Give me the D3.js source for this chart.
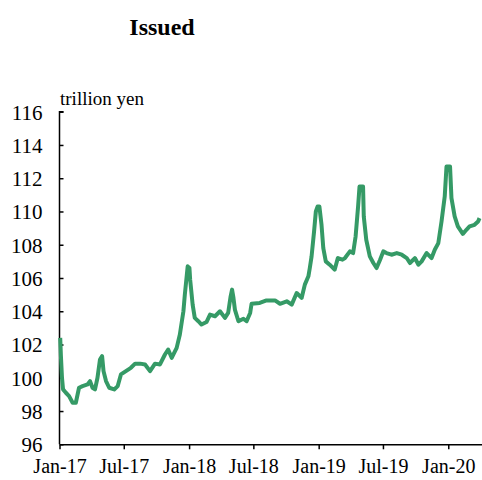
<!DOCTYPE html>
<meta charset="utf-8">
<style>
  body { margin: 0; background: #fff; }
  .tick text { font-family: "Liberation Serif", serif; fill: #000; }
</style>
<script src="https://cdnjs.cloudflare.com/ajax/libs/d3/7.8.5/d3.min.js"></script>
<body>
<script>

  var w = 482;
  var h = 480;

  // dates and balance (trillion yen)
  var dates = [
    "2017-01-03","2017-01-05","2017-01-08","2017-01-11","2017-01-19","2017-01-28","2017-02-07","2017-02-16",
    "2017-02-25","2017-03-07","2017-03-21","2017-03-28","2017-04-04","2017-04-11","2017-04-18","2017-04-25",
    "2017-05-01","2017-05-05","2017-05-12","2017-05-21","2017-06-04","2017-06-14","2017-06-23","2017-07-07",
    "2017-07-21","2017-08-02","2017-08-16","2017-08-30","2017-09-13","2017-09-27","2017-10-11","2017-10-25",
    "2017-11-03","2017-11-13","2017-11-27","2017-12-06","2017-12-16","2017-12-20","2017-12-28","2018-01-02",
    "2018-01-04","2018-01-11","2018-01-17","2018-01-27","2018-02-05","2018-02-19","2018-03-01","2018-03-15",
    "2018-03-29","2018-04-12","2018-04-21","2018-04-28","2018-05-02","2018-05-06","2018-05-10","2018-05-20",
    "2018-06-03","2018-06-12","2018-06-22","2018-06-26","2018-07-19","2018-08-07","2018-08-31","2018-09-14",
    "2018-10-03","2018-10-17","2018-10-31","2018-11-14","2018-11-23","2018-12-03","2018-12-07","2018-12-12",
    "2018-12-19","2018-12-24","2018-12-29","2019-01-03","2019-01-09","2019-01-14","2019-01-21","2019-02-01",
    "2019-02-15","2019-02-24","2019-03-09","2019-03-16","2019-03-30","2019-04-08","2019-04-15","2019-04-22",
    "2019-04-26","2019-05-06","2019-05-08","2019-05-15","2019-05-25","2019-06-04","2019-06-13","2019-06-23",
    "2019-07-02","2019-07-11","2019-07-25","2019-08-09","2019-08-23","2019-09-06","2019-09-15","2019-09-29",
    "2019-10-09","2019-10-18","2019-11-01","2019-11-15","2019-11-24","2019-12-04","2019-12-13","2019-12-22",
    "2019-12-27","2020-01-06","2020-01-10","2020-01-19","2020-01-28","2020-02-11","2020-02-21","2020-03-01",
    "2020-03-15","2020-03-25","2020-03-29"
  ];
  var issued = [
    102.4, 101.3, 100.0, 99.3, 99.1, 98.9, 98.5, 98.5,
    99.4, 99.5, 99.6, 99.8, 99.4, 99.3, 100.0, 101.1,
    101.3, 100.4, 99.8, 99.4, 99.3, 99.5, 100.2, 100.4,
    100.6, 100.85, 100.85, 100.8, 100.4, 100.85, 100.8, 101.4,
    101.7, 101.2, 101.8, 102.6, 104.0, 105.0, 106.7, 106.6,
    105.9, 104.4, 103.6, 103.4, 103.2, 103.35, 103.8, 103.7,
    104.0, 103.6, 103.9, 104.9, 105.3, 104.8, 104.1, 103.4,
    103.55, 103.4, 103.9, 104.45, 104.5, 104.65, 104.65, 104.45,
    104.6, 104.4, 105.1, 104.8, 105.6, 106.1, 106.6, 107.3,
    108.8, 110.0, 110.3, 110.3, 109.2, 107.8, 107.0, 106.8,
    106.5, 107.2, 107.1, 107.2, 107.6, 107.5, 108.5, 110.3,
    111.5, 111.5, 109.7, 108.3, 107.3, 106.9, 106.6, 107.1,
    107.6, 107.5, 107.4, 107.5, 107.4, 107.2, 106.9, 107.2,
    106.8, 107.0, 107.5, 107.2, 107.7, 108.1, 109.4, 110.9,
    112.7, 112.7, 110.8, 109.7, 109.1, 108.65, 108.9, 109.1,
    109.2, 109.4, 109.6
  ];

  var yTicks = [96, 98, 100, 102, 104, 106, 108, 110, 112, 114, 116];
  var xTicks = ["2017-01-01","2017-07-01","2018-01-01","2018-07-01","2019-01-01","2019-07-01","2020-01-01"];

  var serif = "'Liberation Serif', serif";
  var parse = d3.timeParse("%Y-%m-%d");
  var data = dates.map(function (d, i) { return { date: parse(d), value: issued[i] }; });

  var svg = d3.select("body").append("svg")
              .attr("width", w)
              .attr("height", h);

  var x = d3.scaleTime()
            .domain([parse("2017-01-01"), parse("2020-04-05")])
            .range([59.5, 482]);

  var y = d3.scaleLinear()
            .domain([96, 116])
            .range([444.3, 111.7]);

  // title + unit
  svg.append("text")
     .attr("x", 162).attr("y", 35)
     .attr("text-anchor", "middle")
     .attr("font-family", serif).attr("font-size", 24).attr("font-weight", "bold")
     .text("Issued");
  svg.append("text")
     .attr("x", 60).attr("y", 105)
     .attr("font-family", serif).attr("font-size", 19)
     .text("trillion yen");

  // y axis, ticks inside
  var yAxis = svg.append("g")
     .attr("transform", "translate(59.5,0)")
     .call(d3.axisRight(y).tickValues(yTicks).tickSize(4).tickFormat(d3.format("d")));
  yAxis.attr("font-family", serif).attr("font-size", 21);
  yAxis.selectAll(".tick text").attr("x", -17).attr("text-anchor", "end").attr("dy", "0.35em");
  yAxis.selectAll("line, path").attr("stroke", "#000").attr("stroke-width", 1.5);
  yAxis.select(".domain").attr("d", "M4," + y(116) + "H0V" + y(96));

  // x axis
  var fmt = d3.timeFormat("%b-%y");
  var xAxis = svg.append("g")
     .attr("transform", "translate(0," + y(96) + ")")
     .call(d3.axisBottom(x).tickValues(xTicks.map(parse)).tickSize(5).tickSizeOuter(0)
       .tickFormat(function (d) { return fmt(d); }));
  xAxis.attr("font-family", serif).attr("font-size", 20);
  xAxis.selectAll(".tick text").attr("y", 15);
  xAxis.selectAll("line, path").attr("stroke", "#000").attr("stroke-width", 1.5);

  var line = d3.line()
               .x(function (d) { return x(d.date); })
               .y(function (d) { return y(d.value); });

  svg.append("path")
     .datum(data)
     .attr("fill", "none")
     .attr("stroke", "#359a66")
     .attr("stroke-width", 4)
     .attr("stroke-linejoin", "round")
     .attr("d", line);

</script>
</body>
